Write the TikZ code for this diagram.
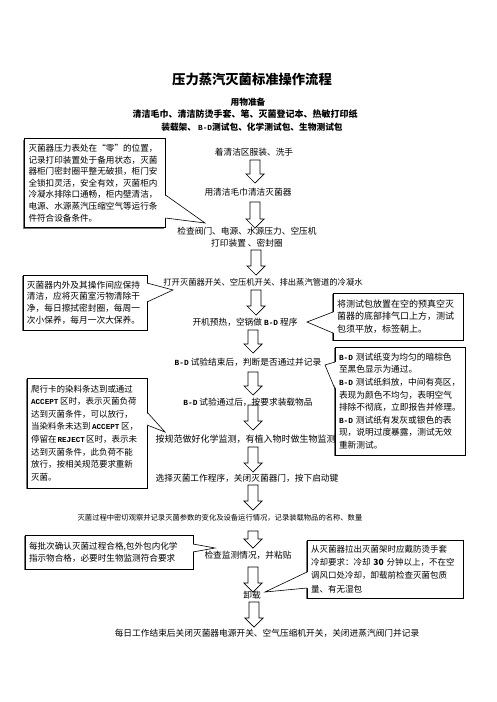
\documentclass[tikz,border=0pt]{standalone}
\usepackage{fontspec}
\setmainfont{Noto Sans CJK SC}
\newfontfamily\latinmono{Liberation Mono}[Scale=0.9]
\newcommand\enword[1]{{\latinmono\bfseries #1}}
\usetikzlibrary{shadows}

\begin{document}
\begin{tikzpicture}[x=1pt, y=-1pt,
    every node/.style={inner sep=0pt, font=\fontsize{8.7}{12}\selectfont},
    notebox/.style={draw, line width=0.6pt, fill=white, align=left, inner xsep=4pt, inner ysep=0pt,
        drop shadow={shadow xshift=-1.3pt, shadow yshift=-1.3pt, fill=black!55, opacity=1}},
    pointer/.style={line width=0.6pt},
    headtext/.style={font=\fontsize{9}{11}\selectfont\bfseries},
    pics/downarrow/.style={code={
        \draw[line width=0.7pt] (-5,0) -- (5,0) -- (5,#1-9) -- (9,#1-9) -- (0,#1) -- (-9,#1-9) -- (-5,#1-9) -- cycle;}}]
    \fill[white] (0,0) rectangle (496,702);
    \useasboundingbox (0,0) rectangle (496,702);

    % title and things to prepare
    \node[font=\fontsize{13.3}{16}\selectfont\bfseries] (title) at (252,79) {压力蒸汽灭菌标准操作流程};
    \node[headtext, font=\fontsize{8.7}{11}\selectfont\bfseries] (prep) at (248,102) {用物准备};
    \node[headtext] (items) at (245,114) {清洁毛巾、清洁防烫手套、笔、灭菌登记本、热敏打印纸};
    \node[headtext, font=\fontsize{8.7}{11}\selectfont\bfseries] (kits) at (252,127) {装载架、 \enword{B-D}测试包、化学测试包、生物测试包};

    % callouts on the left and right
    \node[notebox, text width=133pt, minimum height=89pt, font=\fontsize{8.6}{11.6}\selectfont] (note-ready) at (95,183)
        {灭菌器压力表处在“零”的位置，\\记录打印装置处于备用状态，灭菌\\器柜门密封圈平整无破损，柜门安\\全锁扣灵活，安全有效，灭菌柜内\\冷凝水排除口通畅，柜内壁清洁，\\电源、水源蒸汽压缩空气等运行条\\件符合设备条件。};
    \coordinate (ready-a) at (165.5,195);
    \coordinate (ready-b) at (165.5,218);
    \coordinate (ready-tip) at (205,223);
    \fill[white] ([xshift=-1pt]ready-a) -- (ready-tip) -- ([xshift=-1pt]ready-b) -- cycle;
    \draw[pointer] (ready-a) -- (ready-tip) -- (ready-b);

    \node[notebox, text width=116pt, minimum height=55pt, font=\fontsize{8.7}{11.7}\selectfont] (note-clean) at (85,302.5)
        {灭菌器内外及其操作间应保持\\清洁，应将灭菌室污物清除干\\净，每日擦拭密封圈，每周一\\次小保养，每月一次大保养。};
    \coordinate (clean-a) at (147,283);
    \coordinate (clean-b) at (147,302);
    \coordinate (clean-tip) at (173,290);
    \fill[white] ([xshift=-1pt]clean-a) -- (clean-tip) -- ([xshift=-1pt]clean-b) -- cycle;
    \draw[pointer] (clean-a) -- (clean-tip) -- (clean-b);

    \node[notebox, text width=122pt, minimum height=47pt, font=\fontsize{9}{12.5}\selectfont] (note-pack) at (398,316.5)
        {将测试包放置在空的预真空灭\\菌器的底部排气口上方，测试\\包须平放，标签朝上。};
    \coordinate (pack-a) at (333,312);
    \coordinate (pack-b) at (333,333);
    \coordinate (pack-tip) at (307,322);
    \fill[white] ([xshift=1pt]pack-a) -- (pack-tip) -- ([xshift=1pt]pack-b) -- cycle;
    \draw[pointer] (pack-a) -- (pack-tip) -- (pack-b);

    \node[notebox, text width=112pt, minimum height=110pt, font=\fontsize{8.5}{12.6}\selectfont] (note-card) at (87,433)
        {爬行卡的染料条达到或通过\\\enword{ACCEPT}\hspace{1.5pt}区时，表示灭菌负荷\\达到灭菌条件，可以放行，\\当染料条未达到\hspace{1.5pt}\enword{ACCEPT}\hspace{1.5pt}区，\\停留在\hspace{1pt}\enword{REJECT}\hspace{1pt}区时，表示未\\达到灭菌条件，此负荷不能\\放行，按相关规范要求重新\\灭菌。};
    \coordinate (card-a) at (147,412);
    \coordinate (card-b) at (147,425);
    \coordinate (card-tip) at (165,432);
    \fill[white] ([xshift=-1pt]card-a) -- (card-tip) -- ([xshift=-1pt]card-b) -- cycle;
    \draw[pointer] (card-a) -- (card-tip) -- (card-b);

    \node[notebox, text width=122pt, minimum height=108pt, font=\fontsize{8.7}{12.6}\selectfont] (note-bd) at (400,401)
        {\enword{B-D} 测试纸变为均匀的暗棕色\\至黑色显示为通过。\\\enword{B-D} 测试纸斜放，中间有亮区，\\表现为颜色不均匀，表明空气\\排除不彻底，立即报告并修理。\\\enword{B-D} 测试纸有发灰或银色的表\\现，说明过度暴露，测试无效\\重新测试。};
    \coordinate (bd-a) at (335,362);
    \coordinate (bd-b) at (335,389);
    \coordinate (bd-tip) at (325,365);
    \fill[white] ([xshift=1pt]bd-a) -- (bd-tip) -- ([xshift=1pt]bd-b) -- cycle;
    \draw[pointer] (bd-a) -- (bd-tip) -- (bd-b);

    \node[notebox, text width=160pt, minimum height=34pt, font=\fontsize{8.6}{11.7}\selectfont] (note-batch) at (109,552)
        {每批次确认灭菌过程合格,包外包内化学\\指示物合格，必要时生物监测符合要求};
    \coordinate (batch-a) at (193,544);
    \coordinate (batch-b) at (193,552);
    \coordinate (batch-tip) at (215,548);
    \fill[white] ([xshift=-1pt]batch-a) -- (batch-tip) -- ([xshift=-1pt]batch-b) -- cycle;
    \draw[pointer] (batch-a) -- (batch-tip) -- (batch-b);

    \node[notebox, text width=148pt, minimum height=58pt, font=\fontsize{8.5}{13.3}\selectfont] (note-unload) at (385,569)
        {从灭菌器拉出灭菌架时应戴防烫手套\\冷却要求：冷却 \textbf{30} 分钟以上，不在空\\调风口处冷却，卸载前检查灭菌包质\\量、有无湿包};
    \coordinate (unload-a) at (307,572);
    \coordinate (unload-b) at (307,588);
    \coordinate (unload-tip) at (265,592);
    \fill[white] ([xshift=1pt]unload-a) -- (unload-tip) -- ([xshift=1pt]unload-b) -- cycle;
    \draw[pointer] (unload-a) -- (unload-tip) -- (unload-b);

    % steps of the flow
    \node (dress) at (254,152) {着清洁区服装、洗手};
    \node (wipe) at (248,192) {用清洁毛巾清洁灭菌器};
    \node[align=center] (check) at (247,237) {检查阀门、电源、水源压力、空压机\\打印装置 、密封圈};
    \node[font=\fontsize{8.3}{12}\selectfont] (switch) at (263,282) {打开灭菌器开关、空压机开关、排出蒸汽管道的冷凝水};
    \node (preheat) at (245,322) {开机预热，空锅做 \enword{B-D} 程序};
    \node (bdend) at (248,362) {\enword{B-D} 试验结束后，判断是否通过并记录};
    \node (load) at (248,402) {\enword{B-D} 试验通过后，按要求装载物品};
    \node[font=\fontsize{9}{12}\selectfont] (monitor) at (245.5,439) {按规范做好化学监测，有植入物时做生物监测};
    \node (start) at (247,478) {选择灭菌工作程序，关闭灭菌器门，按下启动键};
    \node[font=\fontsize{7.3}{10}\selectfont] (watch) at (220,518) {灭菌过程中密切观察并记录灭菌参数的变化及设备运行情况，记录装载物品的名称、数量};
    \node (paste) at (248,555) {检查监测情况，并粘贴};
    \node (unload) at (252,595) {卸载};
    \node (close) at (267,633) {每日工作结束后关闭灭菌器电源开关、空气压缩机开关，关闭进蒸汽阀门并记录};

    % hollow arrows between the steps
    \pic at (255,160) {downarrow=23};
    \pic at (255,202) {downarrow=26};
    \pic at (256,250) {downarrow=25};
    \pic at (256,290) {downarrow=25};
    \pic at (253,330) {downarrow=23};
    \pic at (253,372) {downarrow=23};
    \pic at (253,405) {downarrow=25};
    \pic at (253,447) {downarrow=25};
    \pic at (253,485) {downarrow=25};
    \pic at (253,531) {downarrow=17};
    \pic at (253,567) {downarrow=25};
    \pic at (254,602) {downarrow=25};
\end{tikzpicture}
\end{document}
